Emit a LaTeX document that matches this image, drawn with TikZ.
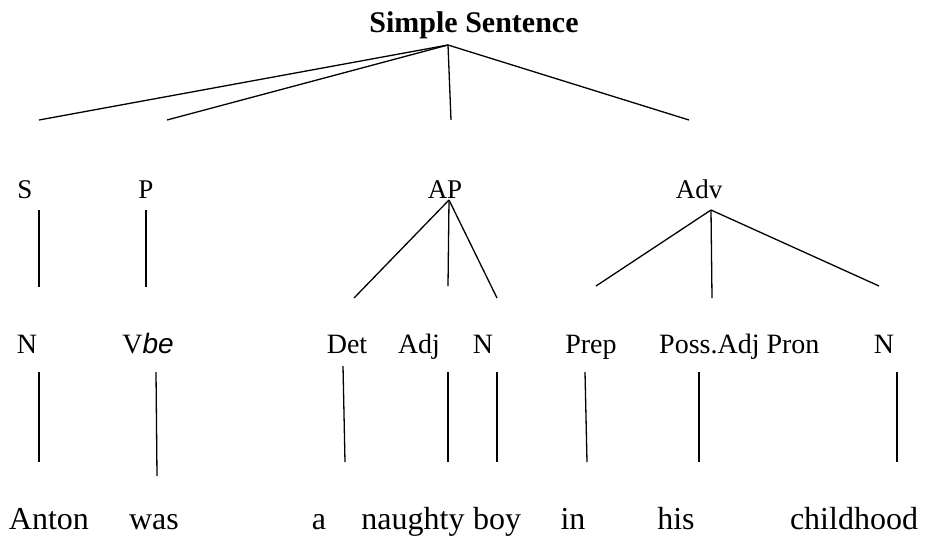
\documentclass[tikz,border=0pt]{standalone}
\usepackage{fontspec}
\setmainfont{Liberation Serif}
\newfontfamily\itsans{Liberation Sans}
\begin{document}
\begin{tikzpicture}[x=1pt,y=-1pt,
  edge/.style={line width=1.3pt},
  ttl/.style={anchor=base,inner sep=0pt,font=\fontsize{30}{33}\selectfont\bfseries},
  lab/.style={anchor=base,inner sep=0pt,font=\fontsize{27}{30}\selectfont},
  cat/.style={anchor=base,inner sep=0pt,font=\fontsize{28}{31}\selectfont},
  wrd/.style={anchor=base,inner sep=0pt,font=\fontsize{32}{35}\selectfont}]
\useasboundingbox (0,0) rectangle (925,536);
% title
\node[ttl] (title) at (474,32) {Simple Sentence};
\coordinate (apex) at (448,45);
\coordinate (e1) at (39,120);
\coordinate (e2) at (167,120);
\coordinate (e3) at (451,120);
\coordinate (e4) at (689,120);
\foreach \e in {e1,e2,e3,e4} \draw[edge] (apex) -- (\e);
% level 2 labels
\node[lab] (S) at (25,198) {S};
\node[lab] (P) at (146,198) {P};
\node[lab] (AP) at (445,198) {AP};
\node[lab] (Adv) at (699,198) {Adv};
% S, P lines
\coordinate (s1) at (39,210); \coordinate (s2) at (39,287);
\coordinate (p1) at (146,210); \coordinate (p2) at (146,287);
\draw[edge] (s1) -- (s2);
\draw[edge] (p1) -- (p2);
% AP branches
\coordinate (apA) at (449,200);
\coordinate (ap1) at (354,298);
\coordinate (ap2) at (448,286);
\coordinate (ap3) at (497,298);
\foreach \e in {ap1,ap2,ap3} \draw[edge] (apA) -- (\e);
% Adv branches
\coordinate (advA) at (711,210);
\coordinate (ad1) at (596,286);
\coordinate (ad2) at (712,298);
\coordinate (ad3) at (879,286);
\foreach \e in {ad1,ad2,ad3} \draw[edge] (advA) -- (\e);
% level 3 labels
\node[cat] (N1) at (27,353) {N};
\node[cat] (Vbe) at (148,353) {V{\itsans\itshape be}};
\node[cat] (Det) at (347,353) {Det};
\node[cat] (Adj) at (419,353) {Adj};
\node[cat] (N2) at (483,353) {N};
\node[cat] (Prep) at (591,353) {Prep};
\node[cat,anchor=base west] (PossPron) at (659,353) {Poss.Adj Pron};
\node[cat] (N3) at (884,353) {N};
% level 3 lines
\coordinate (a1) at (39,372); \coordinate (b1) at (39,462);
\coordinate (a2) at (156,372); \coordinate (b2) at (157,476);
\coordinate (a3) at (343,366); \coordinate (b3) at (345,462);
\coordinate (a4) at (448,372); \coordinate (b4) at (448,462);
\coordinate (a5) at (497,372); \coordinate (b5) at (497,462);
\coordinate (a6) at (585,372); \coordinate (b6) at (587,462);
\coordinate (a7) at (699,372); \coordinate (b7) at (699,462);
\coordinate (a8) at (897,372); \coordinate (b8) at (897,462);
\foreach \i in {1,...,8} \draw[edge] (a\i) -- (b\i);
% words
\node[wrd] (w1) at (49,529) {Anton};
\node[wrd] (w2) at (154,529) {was};
\node[wrd] (w3) at (319,529) {a};
\node[wrd] (w4) at (413,529) {naughty};
\node[wrd] (w5) at (497,529) {boy};
\node[wrd] (w6) at (573,529) {in};
\node[wrd] (w7) at (676,529) {his};
\node[wrd] (w8) at (854,529) {childhood};
\end{tikzpicture}
\end{document}
